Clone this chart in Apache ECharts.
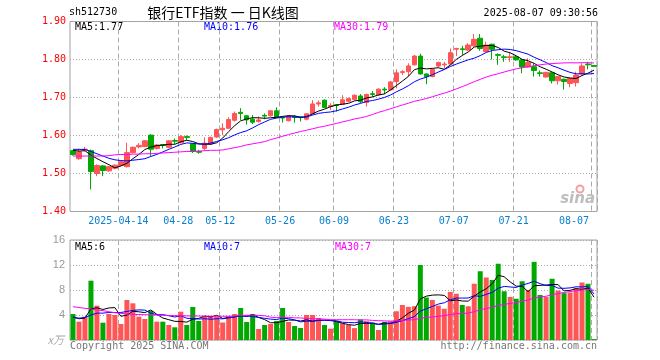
<!DOCTYPE html>
<html><head><meta charset="utf-8">
<script src="https://cdn.jsdelivr.net/npm/echarts@6/dist/echarts.min.js"></script>
<style>html,body{margin:0;padding:0;background:#fff}#c{width:660px;height:360px}</style>
</head><body><div id="c"></div>
<script>
const dates = [
'2025-04-01','2025-04-02','2025-04-03','2025-04-07','2025-04-08','2025-04-09','2025-04-10','2025-04-11',
'2025-04-14','2025-04-15','2025-04-16','2025-04-17','2025-04-18','2025-04-21','2025-04-22','2025-04-23','2025-04-24','2025-04-25',
'2025-04-28','2025-04-29','2025-04-30','2025-05-06','2025-05-07','2025-05-08','2025-05-09',
'2025-05-12','2025-05-13','2025-05-14','2025-05-15','2025-05-16','2025-05-19','2025-05-20','2025-05-21','2025-05-22','2025-05-23',
'2025-05-26','2025-05-27','2025-05-28','2025-05-29','2025-05-30','2025-06-03','2025-06-04','2025-06-05','2025-06-06',
'2025-06-09','2025-06-10','2025-06-11','2025-06-12','2025-06-13','2025-06-16','2025-06-17','2025-06-18','2025-06-19','2025-06-20',
'2025-06-23','2025-06-24','2025-06-25','2025-06-26','2025-06-27','2025-06-30','2025-07-01','2025-07-02','2025-07-03','2025-07-04',
'2025-07-07','2025-07-08','2025-07-09','2025-07-10','2025-07-11','2025-07-14','2025-07-15','2025-07-16','2025-07-17','2025-07-18',
'2025-07-21','2025-07-22','2025-07-23','2025-07-24','2025-07-25','2025-07-28','2025-07-29','2025-07-30','2025-07-31','2025-08-01',
'2025-08-04','2025-08-05','2025-08-06','2025-08-07'];

const opens = [
1.560,1.539,1.562,1.560,1.500,1.520,1.507,1.514,1.521,1.518,
1.555,1.570,1.571,1.601,1.566,1.576,1.569,1.587,1.581,1.597,
1.578,1.558,1.566,1.578,1.596,1.615,1.619,1.640,1.661,1.652,
1.643,1.637,1.653,1.652,1.665,1.648,1.639,1.650,1.649,1.643,
1.657,1.683,1.693,1.676,1.681,1.682,1.690,1.695,1.704,1.687,
1.710,1.707,1.722,1.720,1.742,1.766,1.768,1.786,1.809,1.762,
1.755,1.783,1.786,1.788,1.827,1.828,1.825,1.836,1.856,1.821,
1.840,1.813,1.807,1.805,1.807,1.799,1.780,1.781,1.765,1.754,
1.765,1.744,1.748,1.737,1.739,1.762,1.788,1.784];
const closes = [
1.550,1.557,1.564,1.505,1.521,1.508,1.518,1.522,1.531,1.555,
1.569,1.574,1.586,1.564,1.575,1.574,1.586,1.585,1.597,1.595,
1.558,1.556,1.580,1.595,1.616,1.619,1.642,1.658,1.658,1.641,
1.635,1.641,1.651,1.665,1.648,1.646,1.651,1.648,1.647,1.657,
1.683,1.686,1.674,1.679,1.679,1.694,1.697,1.706,1.689,1.708,
1.708,1.722,1.720,1.741,1.765,1.768,1.783,1.809,1.762,1.755,
1.774,1.792,1.788,1.818,1.829,1.826,1.838,1.853,1.829,1.838,
1.827,1.811,1.805,1.807,1.799,1.780,1.792,1.771,1.763,1.766,
1.744,1.755,1.742,1.750,1.759,1.783,1.786,1.782];
const lows = [
1.547,1.536,1.558,1.458,1.493,1.493,1.504,1.511,1.518,1.516,
1.553,1.566,1.569,1.545,1.563,1.566,1.566,1.578,1.579,1.588,
1.554,1.552,1.560,1.576,1.594,1.601,1.617,1.637,1.641,1.629,
1.630,1.634,1.643,1.650,1.646,1.634,1.637,1.634,1.637,1.640,
1.655,1.676,1.672,1.667,1.663,1.680,1.687,1.693,1.685,1.676,
1.702,1.705,1.709,1.718,1.724,1.759,1.755,1.784,1.760,1.735,
1.753,1.780,1.777,1.786,1.809,1.812,1.823,1.834,1.823,1.819,
1.800,1.786,1.794,1.794,1.797,1.764,1.778,1.755,1.755,1.752,
1.737,1.734,1.721,1.727,1.729,1.760,1.774,1.781];
const highs = [
1.562,1.565,1.570,1.563,1.524,1.522,1.520,1.524,1.533,1.581,
1.571,1.580,1.588,1.603,1.578,1.578,1.588,1.592,1.601,1.600,
1.580,1.562,1.595,1.597,1.618,1.632,1.648,1.663,1.672,1.654,
1.654,1.650,1.658,1.667,1.674,1.651,1.653,1.654,1.650,1.658,
1.693,1.692,1.695,1.685,1.683,1.706,1.700,1.708,1.709,1.710,
1.717,1.724,1.727,1.743,1.774,1.772,1.790,1.812,1.815,1.763,
1.776,1.794,1.794,1.829,1.831,1.836,1.843,1.867,1.867,1.847,
1.842,1.816,1.812,1.818,1.812,1.801,1.803,1.789,1.771,1.768,
1.767,1.757,1.750,1.752,1.768,1.790,1.794,1.785];
const volumes = [
4.16,2.93,3.73,9.49,5.49,2.77,4.16,4.00,2.56,6.40,
5.87,3.73,3.36,4.64,2.93,2.93,2.40,2.03,4.53,2.40,
5.28,3.04,3.84,3.84,3.73,2.80,3.84,4.16,5.12,2.88,
4.16,1.76,2.40,2.56,3.04,5.12,2.88,2.24,1.92,4.00,
4.00,3.52,2.40,1.81,3.00,2.70,2.40,1.90,3.30,3.00,
2.80,1.60,2.90,3.00,4.60,5.60,5.30,5.40,12.0,6.80,
6.40,5.50,5.00,7.70,7.40,5.60,5.40,9.00,11.0,10.0,
9.60,12.2,7.80,6.90,6.60,9.40,8.00,12.5,7.20,6.90,
9.80,7.90,7.50,7.60,8.30,9.20,9.00,0.15];

// moving-average values for the first days (window not yet full)
const ma5Head = [1.561,1.559,1.560,1.548];
const ma10Head = [1.5636,1.5636,1.563,1.558,1.552,1.546,1.540,1.536,1.534];
const ma30Head = [1.546,1.546,1.546,1.546,1.546,1.546,1.547,1.549,1.550,1.550,1.551,1.551,1.552,1.552,1.553,1.554,1.555,1.556,1.557,1.558,1.558,1.559,1.560,1.561,1.561,1.562,1.565,1.568,1.571];
const volMa5Head = [3.7,3.4,3.5,5.0];
const volMa10Head = [3.6,3.5,3.6,4.0,4.3,4.3,4.4,4.4,4.4];
const volMa30Head = [5.33,5.2,5.07,4.96,4.8,4.7,4.53,4.37,4.27,4.16,4.1,4.08,4.05,4.02,4.0,3.95,3.92,3.9,3.88,3.86,3.85,3.83,3.82,3.81,3.8,3.8,3.8,3.85,3.9];

const tickDates = ['2025-04-14','2025-04-28','2025-05-12','2025-05-26','2025-06-09','2025-06-23','2025-07-07','2025-07-21','2025-08-07'];
const priceTicks = [1.40, 1.90, 0.10];   // min, max, step
const volTicks = [0, 16, 4];
const priceLegend = ['MA5:1.77','MA10:1.76','MA30:1.79'];
const volLegend = ['MA5:6','MA10:7','MA30:7'];
const headerCode = 'sh512730';
const headerTitle = '银行ETF指数 一 日K线图';
const headerTime = '2025-08-07 09:30:56';

function movingAvg(vals, n, head) {
  return vals.map((v, i) => {
    if (i < n - 1) return head[i];
    let s = 0;
    for (let k = i - n + 1; k <= i; k++) s += vals[k];
    return +(s / n).toFixed(4);
  });
}

const RED = '#ff5555', GREEN = '#00a800';
const MONO = 'DejaVu Sans Mono';
const tickIdx = new Set(tickDates.map(d => dates.indexOf(d)));
const candleData = opens.map((o, i) => [o, closes[i], lows[i], highs[i]]);
const volData = volumes.map((v, i) => ({ value: v, itemStyle: { color: closes[i] >= opens[i] ? RED : GREEN } }));

function xAxisCfg(g, labels) {
  return {
    type: 'category', gridIndex: g, data: dates, boundaryGap: true,
    axisLine: { show: false }, axisTick: { show: false },
    splitLine: { show: true, interval: (i) => tickIdx.has(i), lineStyle: { color: '#aaa', type: [5, 3], width: 1 } },
    axisLabel: labels ? {
      show: true, interval: (i) => tickIdx.has(i),
      formatter: (v) => v === tickDates[0] ? v : v.slice(5),
      color: '#0a80d0', fontFamily: MONO, fontSize: 10, margin: 5,
      padding: [0, 5, 0, 0], alignMaxLabel: 'right'
    } : { show: false }
  };
}

const chart = echarts.init(document.getElementById('c'), null, { renderer: 'canvas' });
const lineS = (name, data, color, xi, yi) => ({
  name, type: 'line', data, xAxisIndex: xi, yAxisIndex: yi, showSymbol: false, symbol: 'none',
  lineStyle: { color, width: 1 }, silent: true, animation: false, z: 3
});

chart.setOption({
  animation: false,
  backgroundColor: '#fff',
  grid: [
    { left: 70, top: 21.5, width: 527, height: 190, show: true, borderColor: '#a0a0a0', borderWidth: 1, backgroundColor: 'transparent' },
    { left: 70, top: 240, width: 527, height: 100, show: true, borderColor: '#a0a0a0', borderWidth: 1, backgroundColor: 'transparent' }
  ],
  xAxis: [xAxisCfg(0, true), xAxisCfg(1, false)],
  yAxis: [
    { type: 'value', gridIndex: 0, min: priceTicks[0], max: priceTicks[1], interval: priceTicks[2],
      axisLine: { show: false }, axisTick: { show: false },
      splitLine: { show: true, lineStyle: { color: '#aaa', type: [1, 2] } },
      axisLabel: { color: '#ff0000', fontFamily: MONO, fontSize: 10, margin: 4, formatter: v => v.toFixed(2) } },
    { type: 'value', gridIndex: 1, min: volTicks[0], max: volTicks[1], interval: volTicks[2],
      axisLine: { show: false }, axisTick: { show: false },
      splitLine: { show: true, lineStyle: { color: '#aaa', type: [1, 2] } },
      axisLabel: { color: '#999', fontFamily: 'Liberation Sans', fontSize: 11, margin: 5, formatter: v => v === 0 ? '' : String(v) } }
  ],
  series: [
    { type: 'candlestick', xAxisIndex: 0, yAxisIndex: 0, data: candleData, barWidth: 5,
      itemStyle: { color: RED, color0: GREEN, borderColor: RED, borderColor0: GREEN, borderWidth: 1 }, z: 2 },
    lineS('MA5', movingAvg(closes, 5, ma5Head), '#000000', 0, 0),
    lineS('MA10', movingAvg(closes, 10, ma10Head), '#0000ff', 0, 0),
    lineS('MA30', movingAvg(closes, 30, ma30Head), '#ff00ff', 0, 0),
    { type: 'bar', xAxisIndex: 1, yAxisIndex: 1, data: volData, barWidth: 5, z: 2 },
    lineS('VMA5', movingAvg(volumes, 5, volMa5Head), '#000000', 1, 1),
    lineS('VMA10', movingAvg(volumes, 10, volMa10Head), '#0000ff', 1, 1),
    lineS('VMA30', movingAvg(volumes, 30, volMa30Head), '#ff00ff', 1, 1)
  ],
  graphic: [
    { type: 'text', left: 69, top: 7, style: { text: headerCode, fill: '#000', font: '10px "DejaVu Sans Mono"' } },
    { type: 'text', x: 223, y: 13, style: { text: headerTitle, fill: '#000', font: '14px "Noto Sans CJK SC"', textAlign: 'center', textVerticalAlign: 'middle' } },
    { type: 'text', x: 598, y: 13, style: { text: headerTime, fill: '#000', font: '10px "DejaVu Sans Mono"', textAlign: 'right', textVerticalAlign: 'middle' } },
    { type: 'text', x: 75, y: 27, style: { text: priceLegend[0], fill: '#000', font: '10px "DejaVu Sans Mono"', textVerticalAlign: 'middle' } },
    { type: 'text', x: 204, y: 27, style: { text: priceLegend[1], fill: '#0000ff', font: '10px "DejaVu Sans Mono"', textVerticalAlign: 'middle' } },
    { type: 'text', x: 334, y: 27, style: { text: priceLegend[2], fill: '#ff00ff', font: '10px "DejaVu Sans Mono"', textVerticalAlign: 'middle' } },
    { type: 'text', x: 75, y: 247, style: { text: volLegend[0], fill: '#000', font: '10px "DejaVu Sans Mono"', textVerticalAlign: 'middle' } },
    { type: 'text', x: 204, y: 247, style: { text: volLegend[1], fill: '#0000ff', font: '10px "DejaVu Sans Mono"', textVerticalAlign: 'middle' } },
    { type: 'text', x: 335, y: 247, style: { text: volLegend[2], fill: '#ff00ff', font: '10px "DejaVu Sans Mono"', textVerticalAlign: 'middle' } },
    { type: 'text', x: 70, y: 346, style: { text: 'Copyright 2025 SINA.COM', fill: '#777', font: '10px "DejaVu Sans Mono"', textVerticalAlign: 'middle' } },
    { type: 'text', x: 597, y: 346, style: { text: 'http://finance.sina.com.cn', fill: '#777', font: '10px "DejaVu Sans Mono"', textAlign: 'right', textVerticalAlign: 'middle' } },
    { type: 'text', x: 64, y: 340, style: { text: 'x万', fill: '#aaa', font: 'italic 11px "Noto Sans CJK SC"', textAlign: 'right', textVerticalAlign: 'middle' } },
    { type: 'circle', shape: { cx: 580, cy: 189, r: 3.5 }, style: { fill: 'none', stroke: '#f4a0a0', lineWidth: 2 }, z: 1 },
    { type: 'text', x: 595, y: 199, style: { text: 'sina', fill: '#bdbdbd', font: 'italic bold 15px "DejaVu Sans"', textAlign: 'right', textVerticalAlign: 'middle' }, z: 1 }
  ]
});
</script></body></html>
